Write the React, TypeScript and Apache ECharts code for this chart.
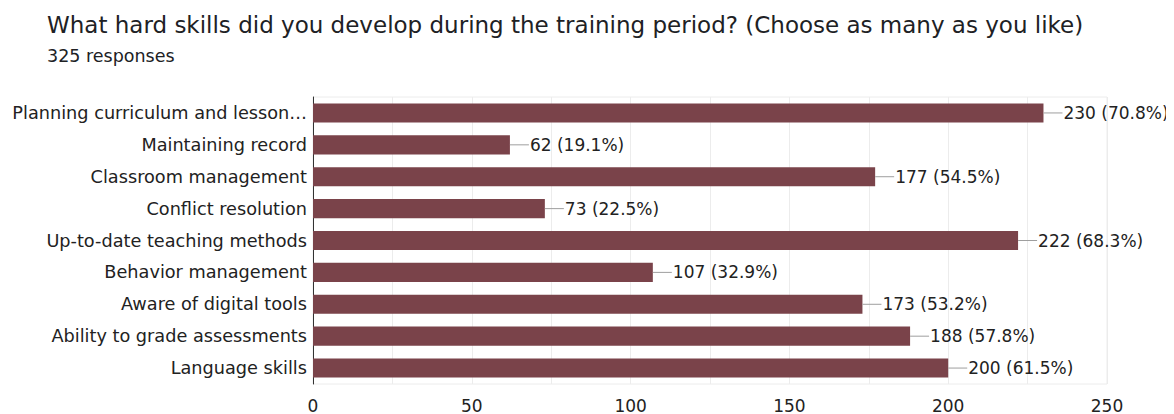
import React, { useEffect, useRef } from "react";
import * as echarts from "echarts";

const titleText = "What hard skills did you develop during the training period? (Choose as many as you like)";
const subtitleText = "325 responses";
const totalResponses = 325;
const categories = [
  "Planning curriculum and lesson…",
  "Maintaining record",
  "Classroom management",
  "Conflict resolution",
  "Up-to-date teaching methods",
  "Behavior management",
  "Aware of digital tools",
  "Ability to grade assessments",
  "Language skills",
];
const counts = [230, 62, 177, 73, 222, 107, 173, 188, 200];
const xTicks = [0, 50, 100, 150, 200, 250];

export default function App() {
  const ref = useRef<HTMLDivElement>(null);
  useEffect(() => {
    if (!ref.current) return;
    const chart = echarts.init(ref.current, undefined, { renderer: "svg" });
    const font = "DejaVu Sans, Arial, sans-serif";
    chart.setOption({
      animation: false,
      backgroundColor: "#ffffff",
      title: [
        {
          text: titleText,
          left: 39,
          top: 5,
          padding: 0,
          textStyle: { fontFamily: font, fontSize: 23, fontWeight: "normal", color: "#202124" },
        },
        {
          text: subtitleText,
          left: 39,
          top: 39,
          padding: 0,
          textStyle: { fontFamily: font, fontSize: 17.5, fontWeight: "normal", color: "#202124" },
        },
      ],
      grid: { left: 305, right: 67, top: 89, bottom: 9, containLabel: false, show: true, borderColor: "#ececec", borderWidth: 1 },
      xAxis: {
        type: "value",
        min: 0,
        max: 250,
        interval: 25,
        axisLine: { show: false },
        axisTick: { show: false },
        splitLine: { show: true, lineStyle: { color: "#ececec", width: 1 } },
        axisLabel: {
          fontFamily: font,
          fontSize: 17,
          color: "#222222",
          margin: 13,
          formatter: (v: number) => (xTicks.indexOf(v) >= 0 ? String(v) : ""),
        },
      },
      yAxis: {
        type: "category",
        data: categories,
        inverse: true,
        axisLine: { show: true, lineStyle: { color: "#333333", width: 1 } },
        axisTick: { show: false },
        axisLabel: { fontFamily: font, fontSize: 17.7, color: "#222222", margin: 6 },
      },
      series: [
        {
          type: "bar",
          data: counts,
          barWidth: "60%",
          itemStyle: { color: "#7a434a" },
          label: {
            show: true,
            position: "right",
            distance: 0,
            formatter: (p: any) => {
              const pct = ((p.value / totalResponses) * 100).toFixed(1);
              return `{ln|}{v|${p.value} (${pct}%)}`;
            },
            rich: {
              ln: { width: 19, height: 1, backgroundColor: "#9e9e9e" },
              v: { fontFamily: font, fontSize: 17, color: "#222222", padding: [0, 0, 0, 1] },
            },
          },
        },
      ],
    });
    return () => chart.dispose();
  }, []);
  return <div ref={ref} style={{ width: 1166, height: 406 }} />;
}
